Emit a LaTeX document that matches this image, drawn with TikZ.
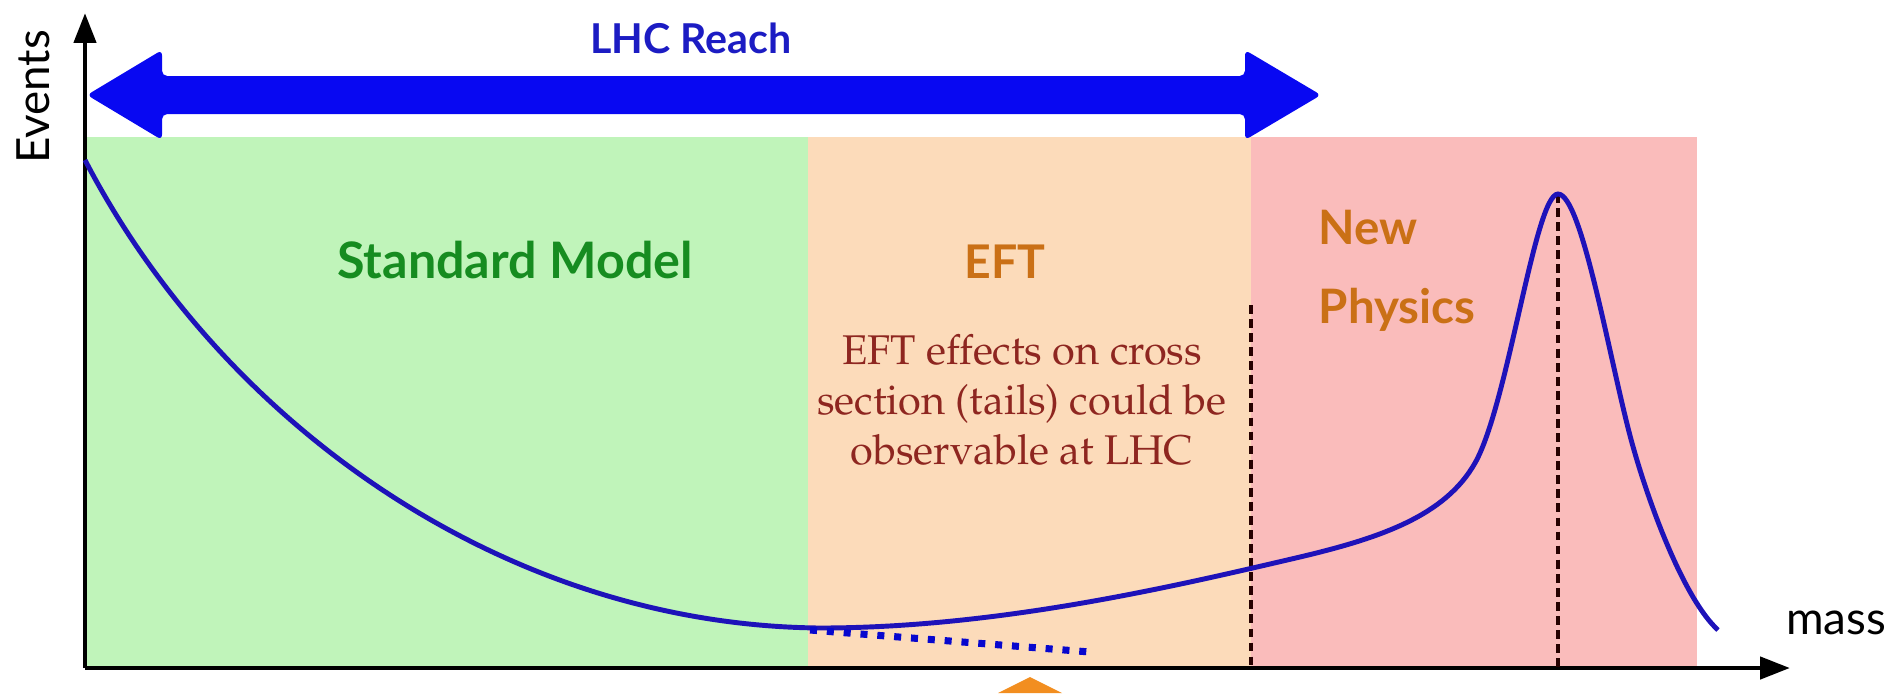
\documentclass[tikz,border=0pt]{standalone}
\usepackage[T1]{fontenc}
\usepackage{fontspec}
\setsansfont{Lato}
\usepackage{xcolor}
\usetikzlibrary{positioning, arrows.meta, calc}

\definecolor{smfill}{RGB}{192,244,186}
\definecolor{eftfill}{RGB}{252,219,186}
\definecolor{npfill}{RGB}{250,188,187}
\definecolor{reachblue}{RGB}{8,8,242}
\definecolor{reachtext}{RGB}{28,28,195}
\definecolor{curveblue}{RGB}{30,18,185}
\definecolor{smtext}{RGB}{22,140,32}
\definecolor{eftorange}{RGB}{202,112,22}
\definecolor{desctext}{RGB}{142,38,32}
\definecolor{pointer}{RGB}{242,142,32}

\newcommand\headfont[1]{\sffamily\bfseries\fontsize{#1}{22.5}\selectfont}
\newcommand\axisfont{\sffamily\fontsize{13}{15}\selectfont}
\newcommand\descfont{\fontencoding{T1}\fontfamily{ppl}\fontsize{11.8}{14.2}\selectfont}

\begin{document}
\begin{tikzpicture}[x=0.01cm, y=-0.01cm,
    axis/.style={line width=1.4pt, -{Triangle[length=8.5pt, width=6.2pt]}},
    marker/.style={line width=1.3pt, black!85!red, dash pattern=on 2.5pt off 1.5pt},
    head/.style={inner sep=0pt},
    axislab/.style={font=\axisfont, inner sep=0pt}]
  \useasboundingbox (0,0) rectangle (1899,693);

  % regions
  \fill[smfill] (85,137) rectangle (808,668);
  \fill[eftfill] (808,137) rectangle (1251,668);
  \fill[npfill] (1251,137) rectangle (1697,668);

  % LHC reach arrow
  \fill[reachblue, rounded corners=1.5pt] (87,95) -- (162,50) -- (162,76) -- (1245,76) -- (1245,50)
    -- (1321,95) -- (1245,140) -- (1245,114) -- (162,114) -- (162,140) -- cycle;
  \node[font=\sffamily\bfseries\fontsize{11.7}{14}\selectfont, text=reachtext, inner sep=0pt, anchor=base] (reach) at (691,53) {LHC Reach};

  % axes
  \coordinate (origin) at (85,668);
  \coordinate (ytip) at (85,13);
  \coordinate (xtip) at (1790,668);
  \draw[axis] (origin) -- (ytip);
  \draw[axis] (origin) -- (xtip);
  \node[axislab, rotate=90] (events) at (33,97) {Events};
  \node[axislab] (mass) at (1836,623) {mass};

  % markers
  \coordinate (edge) at (1251,305);
  \coordinate (peak) at (1558,194);
  \draw[marker] (edge) -- (edge |- origin);
  \draw[marker] (peak) -- (peak |- origin);

  % spectrum
  \draw[curveblue, line width=1.4pt] (85,160)
    .. controls (220,420) and (500,625) .. (820,628)
    .. controls (1000,628) and (1180,585) .. (1300,557)
    .. controls (1380,538) and (1445,516) .. (1475,463)
    .. controls (1508,405) and (1535,194) .. (peak)
    .. controls (1582,194) and (1610,363) .. (1632,443)
    .. controls (1650,508) and (1685,600) .. (1718,630);
  \coordinate (tailstart) at (810,630);
  \coordinate (tailend) at (1090,652);
  \draw[reachblue!85!black, line width=2pt, dash pattern=on 2pt off 2.8pt] (tailstart) -- (tailend);

  % labels
  \node[head, font=\headfont{14.3}, text=smtext, anchor=base] (sm) at (515,278) {Standard Model};
  \node[head, font=\headfont{13.2}, text=eftorange, anchor=base] (eft) at (1005,278) {EFT};
  \node[head, font=\headfont{13.5}, text=eftorange, anchor=north west, align=left] (np) at (1318,209) {New\\Physics};
  \node[font=\descfont, text=desctext, align=center, anchor=north, inner sep=0pt] (effects) at (1022,334)
    {EFT effects on cross\\section (tails) could be\\observable at LHC};

  % pointer below the axis
  \fill[pointer] (1030,677) -- (1062,693) -- (998,693) -- cycle;
\end{tikzpicture}
\end{document}
